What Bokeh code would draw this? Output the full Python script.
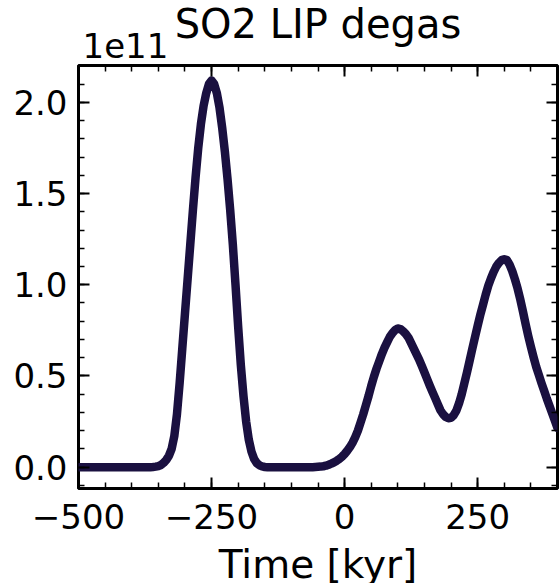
from bokeh.plotting import figure
from bokeh.models import (LinearAxis, SingleIntervalTicker, PrintfTickFormatter,
                          CustomJSTickFormatter, Label, ColumnDataSource, Range1d)
from bokeh.embed import file_html
from bokeh.resources import INLINE

# ---- data ----
title_text = "SO2 LIP degas"
x_label = "Time [kyr]"
offset_text = "1e11"
time_kyr = list(range(-500, 405, 5))
so2_1e11 = (
    [0.0] * 28                                                     # -500 .. -365
    + [0.001, 0.003, 0.006, 0.012, 0.024, 0.04, 0.063, 0.10,       # -360 .. -325
       0.17, 0.29, 0.46, 0.65, 0.84, 1.03, 1.22, 1.41,             # -320 .. -285
       1.59, 1.75, 1.88, 1.98, 2.05, 2.10, 2.12]                   # -280 .. -250
    + [2.10, 2.05, 1.97, 1.86, 1.73, 1.58, 1.41, 1.22,             # -245 .. -210
       1.00, 0.77, 0.56, 0.39, 0.25, 0.15, 0.085, 0.045,           # -205 .. -170
       0.022, 0.010, 0.004, 0.001, 0.0]                            # -165 .. -145
    + [0.0] * 17                                                   # -140 .. -60
    + [0.001, 0.002, 0.003, 0.005, 0.008, 0.013, 0.019, 0.026,     # -55 .. -20
       0.035, 0.045, 0.057]                                        # -15 .. -5
    + [0.072, 0.09, 0.11, 0.135, 0.165, 0.20, 0.245, 0.29, 0.34, 0.39,        # 0 .. 45
       0.445, 0.495, 0.54, 0.58, 0.62, 0.655, 0.685, 0.715, 0.735, 0.752]     # 50 .. 95
    + [0.76, 0.757, 0.745, 0.73, 0.71, 0.68, 0.65, 0.62, 0.59, 0.555,         # 100 .. 145
       0.52, 0.483, 0.447, 0.413, 0.38, 0.345, 0.312, 0.29, 0.275, 0.268]     # 150 .. 195
    + [0.27, 0.285, 0.31, 0.35, 0.40, 0.46, 0.52, 0.585, 0.65, 0.713,         # 200 .. 245
       0.775, 0.835, 0.89, 0.945, 0.995, 1.035, 1.07, 1.10, 1.12, 1.135]      # 250 .. 295
    + [1.14, 1.135, 1.11, 1.075, 1.03, 0.98, 0.92, 0.855, 0.785, 0.72,        # 300 .. 345
       0.66, 0.603, 0.55, 0.505, 0.46, 0.418, 0.375, 0.335, 0.295, 0.255,     # 350 .. 395
       0.215]                                                                 # 400
)
x_major_step = 250
y_major_step = 0.5
x_lim = (-500, 400)
y_lim = (-0.117, 2.202)

FONT = "DejaVu Sans"
LINE_COLOR = "#1a1040"

src = ColumnDataSource(dict(t=time_kyr, v=so2_1e11))

p = figure(width=559, height=583,
           x_range=Range1d(*x_lim), y_range=Range1d(*y_lim),
           output_backend="svg", toolbar_location=None,
           min_border_left=78, min_border_right=2,
           min_border_top=65, min_border_bottom=95)
p.grid.visible = False
p.outline_line_color = "black"
p.outline_line_width = 3
p.background_fill_color = "white"
p.border_fill_color = "white"

p.line("t", "v", source=src, line_color=LINE_COLOR, line_width=8.5,
       line_join="round", line_cap="round")


def style_axis(ax, ticker, formatter=None, labels=True, standoff=12):
    ax.ticker = ticker
    ax.axis_line_color = None
    ax.major_tick_in = 11
    ax.major_tick_out = 0
    ax.major_tick_line_width = 2
    ax.major_tick_line_color = "black"
    ax.minor_tick_in = 6
    ax.minor_tick_out = 0
    ax.minor_tick_line_width = 1.5
    ax.minor_tick_line_color = "black"
    if labels:
        ax.formatter = formatter
        ax.major_label_text_font = FONT
        ax.major_label_text_font_size = "34px"
        ax.major_label_text_color = "black"
        ax.major_label_standoff = standoff
    else:
        ax.formatter = CustomJSTickFormatter(code="return '';")
        ax.major_label_text_font_size = "0px"
        ax.major_label_standoff = 0


x_fmt = CustomJSTickFormatter(code="return tick < 0 ? '\u2212' + Math.abs(tick) : String(tick);")
y_fmt = PrintfTickFormatter(format="%.1f")

style_axis(p.xaxis[0], SingleIntervalTicker(interval=x_major_step, num_minor_ticks=5), x_fmt, True, 15)
style_axis(p.yaxis[0], SingleIntervalTicker(interval=y_major_step, num_minor_ticks=5), y_fmt, True, 11)

top_ax = LinearAxis()
style_axis(top_ax, SingleIntervalTicker(interval=x_major_step, num_minor_ticks=5), labels=False)
p.add_layout(top_ax, "above")
right_ax = LinearAxis()
style_axis(right_ax, SingleIntervalTicker(interval=y_major_step, num_minor_ticks=5), labels=False)
p.add_layout(right_ax, "right")

# offset text "1e11" (Label in the above panel, not clipped)
p.add_layout(Label(x=x_lim[0], y=y_lim[1], x_offset=4, y_offset=20, text=offset_text,
                   text_align="left", text_baseline="alphabetic", text_font=FONT,
                   text_font_size="34px", text_color="black"), "above")
# x axis label (Label in the below panel)
x_mid = (x_lim[0] + x_lim[1]) / 2
p.add_layout(Label(x=x_mid, y=y_lim[0], y_offset=-76, text=x_label, text_align="center",
                   text_baseline="alphabetic", text_font=FONT, text_font_size="39px",
                   text_color="black"), "below")

# plot title (negative standoff so it sits beside, not above, the offset text)
p.title.text = title_text
p.title.align = "center"
p.title.vertical_align = "bottom"
p.title.text_font = FONT
p.title.text_font_size = "40px"
p.title.text_font_style = "normal"
p.title.text_color = "black"
p.title.standoff = -12

open("out.html", "w").write(file_html(p, INLINE))
